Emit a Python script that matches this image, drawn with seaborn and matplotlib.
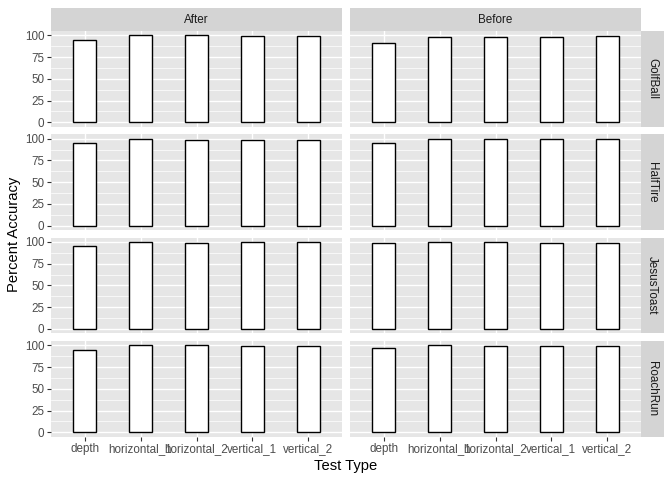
import pandas as pd
import seaborn as sns
import matplotlib.pyplot as plt
from matplotlib.ticker import MultipleLocator, FixedLocator
plt.rcParams['font.family'] = ['Liberation Sans', 'DejaVu Sans']

##### data
tests = ['depth', 'horizontal_1', 'horizontal_2', 'vertical_1', 'vertical_2']
phases = ['After', 'Before']
objects = ['GolfBall', 'HalfTire', 'JesusToast', 'RoachRun']

golfball_after = [94.3, 100.0, 100.0, 99.3, 99.3]
golfball_before = [90.9, 98.5, 97.7, 98.5, 99.3]
halftire_after = [95.0, 100.0, 98.5, 98.5, 98.5]
halftire_before = [95.0, 100.0, 100.0, 100.0, 100.0]
jesustoast_after = [95.0, 100.0, 99.2, 99.6, 99.6]
jesustoast_before = [99.2, 99.6, 99.6, 99.2, 99.2]
roachrun_after = [95.0, 100.0, 100.0, 99.6, 99.6]
roachrun_before = [96.9, 100.0, 99.6, 99.6, 98.9]

vals = {
    ('GolfBall', 'After'): golfball_after, ('GolfBall', 'Before'): golfball_before,
    ('HalfTire', 'After'): halftire_after, ('HalfTire', 'Before'): halftire_before,
    ('JesusToast', 'After'): jesustoast_after, ('JesusToast', 'Before'): jesustoast_before,
    ('RoachRun', 'After'): roachrun_after, ('RoachRun', 'Before'): roachrun_before,
}
rows = []
for (obj, ph), v in vals.items():
    for t, a in zip(tests, v):
        rows.append({'object': obj, 'phase': ph, 'test': t, 'acc': a})
df = pd.DataFrame(rows)

### the plot
W, H = 672, 480
fig = plt.figure(figsize=(W / 100, H / 100), dpi=100)

def box(x, y, w, h):
    # pixel box (from top-left) -> figure fraction
    return [x / W, 1 - (y + h) / H, w / W, h / H]

col_x = [51, 350]
col_w = 291
row_h = 95.7
tick_col = '#4D4D4D'
strip_col = '#D4D4D4'

for i, obj in enumerate(objects):
    top = 31 + i * 103.3
    for j, ph in enumerate(phases):
        ax = fig.add_axes(box(col_x[j], top, col_w, row_h))
        sub = df[(df['object'] == obj) & (df['phase'] == ph)]
        sns.barplot(data=sub, x='test', y='acc', order=tests, color='white',
                    edgecolor='black', linewidth=1.0, width=0.4, saturation=1,
                    errorbar=None, ax=ax)
        ax.set_facecolor('#E6E6E6')
        ax.set_xlim(-0.6, 4.6)
        ax.set_ylim(-5, 105)
        ax.yaxis.set_major_locator(FixedLocator([0, 25, 50, 75, 100]))
        ax.yaxis.set_minor_locator(MultipleLocator(12.5))
        ax.set_axisbelow(True)
        ax.grid(which='major', color='white', lw=1.0)
        ax.grid(which='minor', axis='y', color='white', lw=0.5)
        for s in ax.spines.values():
            s.set_visible(False)
        ax.set_xlabel('')
        ax.set_ylabel('')
        ax.tick_params(which='minor', length=0)
        ax.tick_params(which='major', length=2.7, width=0.8, color='#333333',
                       labelsize=8.4, labelcolor=tick_col, pad=2)
        if j == 1:
            ax.tick_params(axis='y', length=0, labelleft=False)
        if i < len(objects) - 1:
            ax.tick_params(axis='x', length=0, labelbottom=False)

        if i == 0:
            sax = fig.add_axes(box(col_x[j], 8.3, col_w, 22.7))
            sax.set_facecolor(strip_col)
            sax.set_xticks([]); sax.set_yticks([])
            for s in sax.spines.values():
                s.set_visible(False)
            sax.text(0.5, 0.5, ph, ha='center', va='center', fontsize=8.4, color='#1A1A1A')
        if j == 1:
            sax = fig.add_axes(box(641, top, 22.5, row_h))
            sax.set_facecolor(strip_col)
            sax.set_xticks([]); sax.set_yticks([])
            for s in sax.spines.values():
                s.set_visible(False)
            sax.text(0.5, 0.5, obj, ha='center', va='center', rotation=-90,
                     fontsize=8.4, color='#1A1A1A')

fig.text(14 / W, 1 - 234 / H, 'Percent Accuracy', rotation=90, ha='center', va='center', fontsize=10.6)
fig.text(346 / W, 1 - 466 / H, 'Test Type', ha='center', va='center', fontsize=10.6)

plt.savefig('out.png', dpi=100)
